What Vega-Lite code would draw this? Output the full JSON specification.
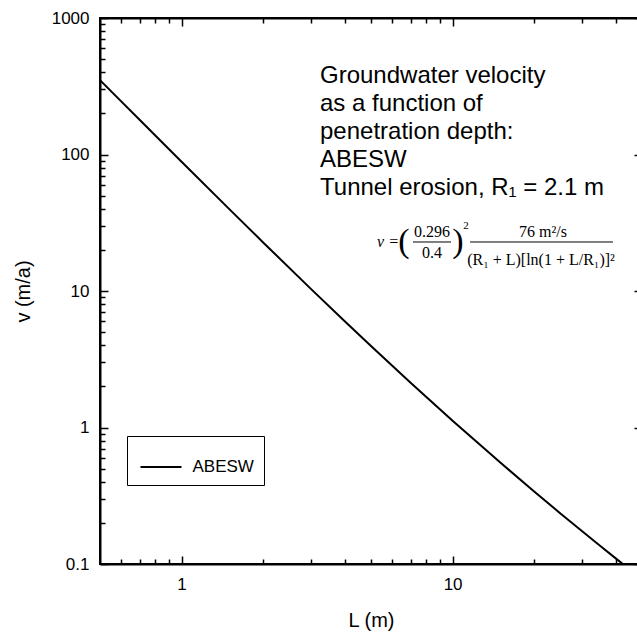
{
  "$schema": "https://vega.github.io/schema/vega-lite/v6.json",
  "width": 542,
  "height": 546,
  "autosize": {"type": "none"},
  "padding": {"left": 100, "top": 18, "right": 0, "bottom": 70},
  "background": "white",
  "config": {
    "view": {"stroke": "black", "strokeWidth": 2},
    "font": "Liberation Sans",
    "axis": {
      "grid": false,
      "domainColor": "black",
      "domainWidth": 2,
      "tickColor": "black",
      "tickWidth": 1.5,
      "labelColor": "black",
      "titleColor": "black",
      "labelFont": "Liberation Sans",
      "titleFont": "Liberation Sans",
      "labelFontSize": 17,
      "titleFontSize": 20,
      "titleFontWeight": "normal",
      "labelOverlap": false,
      "labelFlush": false
    }
  },
  "datasets": {
    "curve": [
      {"L": 0.5, "v": 350.9, "series": "ABESW"},
      {"L": 0.6, "v": 244.05, "series": "ABESW"},
      {"L": 0.7, "v": 179.6, "series": "ABESW"},
      {"L": 0.8, "v": 137.75, "series": "ABESW"},
      {"L": 1, "v": 88.5, "series": "ABESW"},
      {"L": 1.5, "v": 39.79, "series": "ABESW"},
      {"L": 2, "v": 22.68, "series": "ABESW"},
      {"L": 3, "v": 10.365, "series": "ABESW"},
      {"L": 4, "v": 6.0, "series": "ABESW"},
      {"L": 5, "v": 3.95, "series": "ABESW"},
      {"L": 7, "v": 2.127, "series": "ABESW"},
      {"L": 10, "v": 1.1215, "series": "ABESW"},
      {"L": 15, "v": 0.5533, "series": "ABESW"},
      {"L": 20, "v": 0.34, "series": "ABESW"},
      {"L": 25, "v": 0.23477, "series": "ABESW"},
      {"L": 30, "v": 0.17435, "series": "ABESW"},
      {"L": 35, "v": 0.13603, "series": "ABESW"},
      {"L": 40, "v": 0.10998, "series": "ABESW"},
      {"L": 43, "v": 0.09811, "series": "ABESW"}
    ],
    "mainText": [
      {"x": 3.242, "y": 334.1, "text": "Groundwater velocity\nas a function of\npenetration depth:\nABESW\nTunnel erosion, R₁ = 2.1 m"}
    ],
    "formulaItalic": [
      {"x": 5.777, "y": 22.86, "text": "v ="}
    ],
    "formulaText": [
      {"x": 8.396, "y": 27.05, "text": "0.296"},
      {"x": 8.396, "y": 18.98, "text": "0.4"},
      {"x": 21.56, "y": 27.05, "text": "76 m²/s"},
      {"x": 21.2, "y": 16.87, "text": "(R₁ + L)[ln(1 + L/R₁)]²"}
    ],
    "formulaParen": [
      {"x": 6.619, "y": 22.86, "text": "("},
      {"x": 10.47, "y": 22.86, "text": ")"}
    ],
    "formulaSup": [
      {"x": 11.207, "y": 29.94, "text": "2"}
    ],
    "formulaRules": [
      {"x": 7.144, "x2": 9.867, "y": 22.86},
      {"x": 11.597, "x2": 39.07, "y": 22.86}
    ]
  },
  "layer": [
    {
      "data": {"name": "curve"},
      "mark": {"type": "line", "clip": true, "strokeWidth": 2},
      "encoding": {
        "x": {
          "field": "L", "type": "quantitative",
          "scale": {"type": "log", "domain": [0.5, 50], "nice": false},
          "axis": {
            "orient": "bottom",
            "title": "L (m)",
            "values": [0.6, 0.7, 0.8, 0.9, 1, 2, 3, 4, 5, 6, 7, 8, 9, 10, 20, 30, 40, 50],
            "format": "~g",
            "labelExpr": "abs(log(datum.value)/LN10 - round(log(datum.value)/LN10)) < 0.001 ? datum.label : ''",
            "tickSize": {"condition": {"test": "abs(log(datum.value)/LN10 - round(log(datum.value)/LN10)) < 0.001", "value": -8}, "value": -5},
            "labelPadding": 20,
            "titlePadding": 15
          }
        },
        "y": {
          "field": "v", "type": "quantitative",
          "scale": {"type": "log", "domain": [0.1, 1000], "nice": false},
          "axis": {
            "orient": "left",
            "title": "v (m/a)",
            "values": [0.1, 0.2, 0.3, 0.4, 0.5, 0.6, 0.7, 0.8, 0.9, 1, 2, 3, 4, 5, 6, 7, 8, 9, 10, 20, 30, 40, 50, 60, 70, 80, 90, 100, 200, 300, 400, 500, 600, 700, 800, 900, 1000],
            "format": "~g",
            "labelExpr": "abs(log(datum.value)/LN10 - round(log(datum.value)/LN10)) < 0.001 ? datum.label : ''",
            "tickSize": {"condition": {"test": "abs(log(datum.value)/LN10 - round(log(datum.value)/LN10)) < 0.001", "value": -8}, "value": -5},
            "labelPadding": 19,
            "titlePadding": 18
          }
        },
        "color": {
          "field": "series", "type": "nominal",
          "scale": {"range": ["black"]},
          "legend": {
            "orient": "none",
            "legendX": 27,
            "legendY": 418,
            "title": null,
            "symbolType": "stroke",
            "symbolSize": 1681,
            "symbolStrokeWidth": 2,
            "labelFontSize": 17,
            "labelFont": "Liberation Sans",
            "labelColor": "black",
            "strokeColor": "black",
            "fillColor": "white",
            "padding": 9.5,
            "symbolOffset": 3,
            "labelOffset": 10
          }
        }
      }
    },
    {
      "data": {"name": "curve"},
      "mark": {"type": "point", "opacity": 0},
      "encoding": {
        "x": {
          "field": "L", "type": "quantitative",
          "scale": {"type": "log", "domain": [0.5, 50], "nice": false},
          "axis": {
            "orient": "top",
            "title": null,
            "labels": false,
            "values": [0.6, 0.7, 0.8, 0.9, 1, 2, 3, 4, 5, 6, 7, 8, 9, 10, 20, 30, 40, 50],
            "tickSize": {"condition": {"test": "abs(log(datum.value)/LN10 - round(log(datum.value)/LN10)) < 0.001", "value": -8}, "value": -5}
          }
        },
        "y": {
          "field": "v", "type": "quantitative",
          "scale": {"type": "log", "domain": [0.1, 1000], "nice": false},
          "axis": {
            "orient": "right",
            "title": null,
            "labels": false,
            "values": [0.1, 0.2, 0.3, 0.4, 0.5, 0.6, 0.7, 0.8, 0.9, 1, 2, 3, 4, 5, 6, 7, 8, 9, 10, 20, 30, 40, 50, 60, 70, 80, 90, 100, 200, 300, 400, 500, 600, 700, 800, 900, 1000],
            "tickSize": {"condition": {"test": "abs(log(datum.value)/LN10 - round(log(datum.value)/LN10)) < 0.001", "value": -8}, "value": -5}
          }
        }
      }
    },
    {
      "data": {"name": "mainText"},
      "mark": {"type": "text", "align": "left", "baseline": "alphabetic", "font": "Liberation Sans", "fontSize": 24, "lineHeight": 28, "lineBreak": "\n", "color": "black"},
      "encoding": {
        "x": {"field": "x", "type": "quantitative", "axis": null},
        "y": {"field": "y", "type": "quantitative", "axis": null},
        "text": {"field": "text"}
      }
    },
    {
      "data": {"name": "formulaItalic"},
      "mark": {"type": "text", "align": "center", "baseline": "middle", "font": "Liberation Serif", "fontSize": 16, "fontStyle": "italic", "color": "black"},
      "encoding": {
        "x": {"field": "x", "type": "quantitative", "axis": null},
        "y": {"field": "y", "type": "quantitative", "axis": null},
        "text": {"field": "text"}
      }
    },
    {
      "data": {"name": "formulaText"},
      "mark": {"type": "text", "align": "center", "baseline": "middle", "font": "Liberation Serif", "fontSize": 16, "color": "black"},
      "encoding": {
        "x": {"field": "x", "type": "quantitative", "axis": null},
        "y": {"field": "y", "type": "quantitative", "axis": null},
        "text": {"field": "text"}
      }
    },
    {
      "data": {"name": "formulaParen"},
      "mark": {"type": "text", "align": "center", "baseline": "middle", "font": "Liberation Serif", "fontSize": 34, "fontWeight": 300, "color": "black"},
      "encoding": {
        "x": {"field": "x", "type": "quantitative", "axis": null},
        "y": {"field": "y", "type": "quantitative", "axis": null},
        "text": {"field": "text"}
      }
    },
    {
      "data": {"name": "formulaSup"},
      "mark": {"type": "text", "align": "center", "baseline": "middle", "font": "Liberation Serif", "fontSize": 11, "color": "black"},
      "encoding": {
        "x": {"field": "x", "type": "quantitative", "axis": null},
        "y": {"field": "y", "type": "quantitative", "axis": null},
        "text": {"field": "text"}
      }
    },
    {
      "data": {"name": "formulaRules"},
      "mark": {"type": "rule", "color": "black", "strokeWidth": 1},
      "encoding": {
        "x": {"field": "x", "type": "quantitative", "axis": null},
        "x2": {"field": "x2"},
        "y": {"field": "y", "type": "quantitative", "axis": null}
      }
    }
  ]
}
